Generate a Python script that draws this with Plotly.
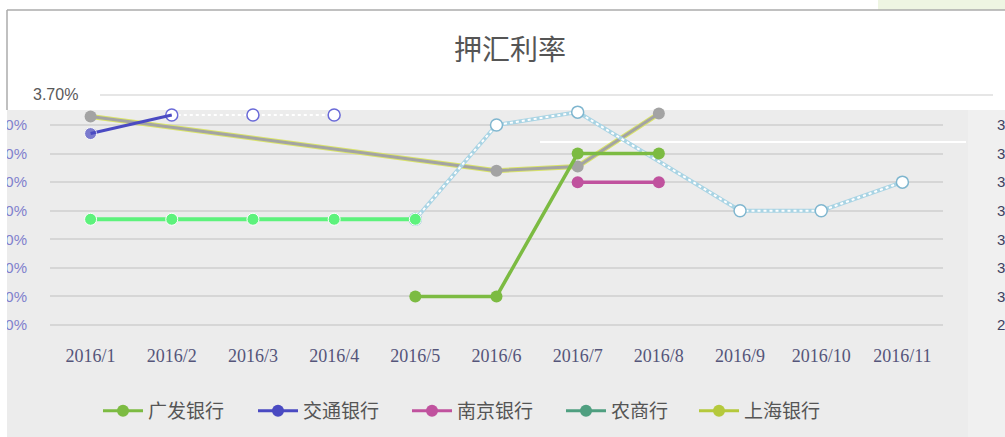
import plotly.graph_objects as go

W, H = 1005, 437

months = ["2016/1", "2016/2", "2016/3", "2016/4", "2016/5", "2016/6",
          "2016/7", "2016/8", "2016/9", "2016/10", "2016/11"]

# series values (%)
guangfa = [None, None, None, None, 3.00, 3.00, 3.50, 3.50, None, None, None]
jiaotong = [3.57, 3.635, 3.635, 3.635, None, None, None, None, None, None, None]
nanjing = [None, None, None, None, None, None, 3.40, 3.40, None, None, None]
nongshang = [3.27, 3.27, 3.27, 3.27, 3.27, 3.60, 3.645, None, 3.30, 3.30, 3.40]
shanghai = [3.63, None, None, None, None, 3.44, 3.455, 3.64, None, None, None]

legend_names = ["广发银行", "交通银行", "南京银行", "农商行", "上海银行"]
legend_colors = ["#7cbb42", "#4a4ac2", "#c0529e", "#4f9f80", "#b5c93c"]
legend_left_px = [98, 253, 407, 561, 694]

ytick_vals = [2.9, 3.0, 3.1, 3.2, 3.3, 3.4, 3.5, 3.6]
ytick_text = [f"{v:.2f}%" for v in ytick_vals]
top_label = "3.70%"
title = "押汇利率"

CJK = "Noto Sans CJK SC"


def px(x):
    return x / W


def py(y):
    return (H - y) / H


fig = go.Figure()

# 上海银行 (drawn grey with a yellow-green halo)
fig.add_trace(go.Scatter(x=months, y=shanghai, mode="lines", connectgaps=True,
                         line=dict(color="#d9e36a", width=5), showlegend=False,
                         hoverinfo="skip", cliponaxis=False))
fig.add_trace(go.Scatter(x=months, y=shanghai, mode="lines+markers", connectgaps=True,
                         line=dict(color="#a3a3a3", width=3),
                         marker=dict(color="#a3a3a3", size=12), showlegend=False,
                         cliponaxis=False))

# 农商行 second part: white dotted line with bluish edges
ns_x2 = months[4:]
ns_y2 = nongshang[4:]
fig.add_trace(go.Scatter(x=ns_x2, y=ns_y2, mode="lines", connectgaps=True,
                         line=dict(color="#a9d4e4", width=4), showlegend=False,
                         hoverinfo="skip", cliponaxis=False))
fig.add_trace(go.Scatter(x=ns_x2, y=ns_y2, mode="lines+markers", connectgaps=True,
                         line=dict(color="white", width=2, dash="dot"),
                         marker=dict(color="white", size=12,
                                     line=dict(color="#7fb6cf", width=1.5)),
                         showlegend=False, cliponaxis=False))
# 农商行 first part: bright green
fig.add_trace(go.Scatter(x=months[:5], y=nongshang[:5], mode="lines+markers",
                         line=dict(color="#5df27c", width=4),
                         marker=dict(color="#5df27c", size=12,
                                     line=dict(color="white", width=1)),
                         showlegend=False, cliponaxis=False))

# 交通银行
fig.add_trace(go.Scatter(x=months[1:4], y=jiaotong[1:4], mode="lines+markers",
                         line=dict(color="white", width=2, dash="dot"),
                         marker=dict(color="white", size=12,
                                     line=dict(color="#6a6ad8", width=1.5)),
                         showlegend=False, cliponaxis=False))
fig.add_trace(go.Scatter(x=months[:2], y=jiaotong[:2], mode="lines+markers",
                         line=dict(color="#4a4ac2", width=3),
                         marker=dict(color="#4a4ac2", size=[12, 0]),
                         showlegend=False, cliponaxis=False))

# 广发银行
fig.add_trace(go.Scatter(x=months, y=guangfa, mode="lines+markers",
                         line=dict(color="#7cbb42", width=3.5),
                         marker=dict(color="#7cbb42", size=12),
                         showlegend=False, cliponaxis=False))

# 南京银行
fig.add_trace(go.Scatter(x=months, y=nanjing, mode="lines+markers",
                         line=dict(color="#c0529e", width=3.5),
                         marker=dict(color="#c0529e", size=12),
                         showlegend=False, cliponaxis=False))

# legend entries, one legend box each so they can be spaced like the reference
legend_layouts = {}
for i, (name, col, lx) in enumerate(zip(legend_names, legend_colors, legend_left_px)):
    key = "legend" if i == 0 else f"legend{i + 1}"
    fig.add_trace(go.Scatter(x=[months[0]], y=[None], mode="lines+markers", name=name,
                             line=dict(color=col, width=3),
                             marker=dict(color=col, size=12), legend=key))
    legend_layouts[key] = dict(orientation="h", x=px(lx), y=py(411), xanchor="left",
                               yanchor="middle", bgcolor="rgba(0,0,0,0)",
                               font=dict(family=CJK, size=19, color="#555555"),
                               itemwidth=40)

# dummy trace for the right axis
fig.add_trace(go.Scatter(x=[months[0]], y=[None], yaxis="y2", showlegend=False,
                         hoverinfo="skip"))

y_lo = 3.60 - (332 - 125) / 285.7
y_hi = 3.60 + (125 - 108) / 285.7

shapes = [
    # grey chart region
    dict(type="rect", xref="paper", yref="paper", x0=px(7), x1=1, y0=0, y1=py(110),
         fillcolor="#ececec", line=dict(width=0), layer="below"),
    dict(type="rect", xref="paper", yref="paper", x0=px(968), x1=1, y0=0, y1=py(110),
         fillcolor="#f0f0f0", line=dict(width=0), layer="below"),
    # light green corner
    dict(type="rect", xref="paper", yref="paper", x0=px(878), x1=1, y0=py(10), y1=1,
         fillcolor="#eef5e2", line=dict(width=0), layer="below"),
    # white strip at the left edge (the grey chart image is cut there)
    dict(type="rect", xref="paper", yref="paper", x0=0, x1=px(7), y0=0, y1=py(108),
         fillcolor="white", line=dict(width=0), layer="above"),
    # top box border
    dict(type="line", xref="paper", yref="paper", x0=px(7), x1=1, y0=py(10), y1=py(10),
         line=dict(color="#ababab", width=1.5)),
    dict(type="line", xref="paper", yref="paper", x0=px(7), x1=px(7), y0=py(10), y1=py(110),
         line=dict(color="#ababab", width=1.5)),
    # 3.70% grid line in the white area
    dict(type="line", xref="paper", yref="paper", x0=px(100), x1=px(993), y0=py(95), y1=py(95),
         line=dict(color="#dedede", width=1.5)),
    # white streak
    dict(type="line", xref="paper", yref="paper", x0=px(540), x1=px(966), y0=py(142), y1=py(142),
         line=dict(color="white", width=2), layer="below"),
]

annotations = [
    dict(text=title, xref="paper", yref="paper", x=px(510), y=py(48), xanchor="center",
         yanchor="middle", showarrow=False,
         font=dict(family=CJK, size=28, color="#555555")),
    dict(text=top_label, xref="paper", yref="paper", x=px(80), y=py(95), xanchor="right",
         yanchor="middle", showarrow=False,
         font=dict(family="Liberation Sans", size=16, color="#595959")),
]

fig.update_layout(
    width=W, height=H,
    margin=dict(l=0, r=0, t=0, b=0),
    paper_bgcolor="white",
    plot_bgcolor="rgba(0,0,0,0)",
    showlegend=True,
    xaxis=dict(domain=[px(50), px(943)], type="category", range=[-0.5, 10.5],
               showgrid=False, zeroline=False, showline=False, ticks="",
               tickfont=dict(family="Liberation Serif", size=18, color="#55557a"),
               ticklabelstandoff=11, automargin=False, fixedrange=True),
    yaxis=dict(domain=[py(332), py(108)], range=[y_lo, y_hi],
               tickvals=ytick_vals, ticktext=ytick_text,
               showgrid=True, gridcolor="#d6d6d6", gridwidth=1.5, zeroline=False,
               showline=False, ticks="",
               tickfont=dict(family="Liberation Sans", size=15, color="#8080cc"),
               ticklabelstandoff=22, automargin=False),
    yaxis2=dict(overlaying="y", side="right", range=[y_lo, y_hi],
                tickvals=ytick_vals, ticktext=ytick_text, showgrid=False,
                zeroline=False, showline=False, ticks="",
                tickfont=dict(family="Liberation Sans", size=15, color="#404060"),
                ticklabelstandoff=53, automargin=False),
    shapes=shapes,
    annotations=annotations,
    **legend_layouts,
)

fig.write_html("out.html", config={"displayModeBar": False},
               post_script="document.body.style.margin='0';document.body.style.overflow='hidden';")
